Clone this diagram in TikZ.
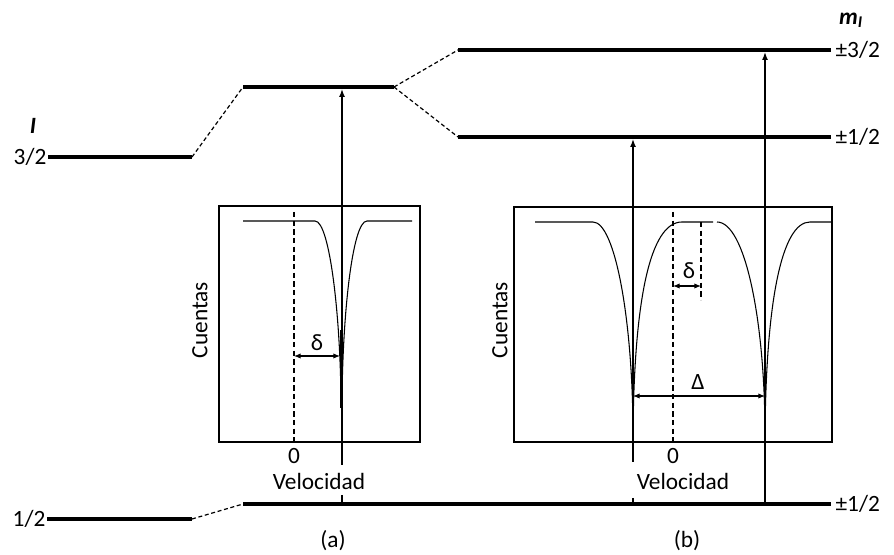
\documentclass[tikz,border=0pt]{standalone}
\usepackage{fontspec}
\setmainfont{Carlito}
\usetikzlibrary{arrows.meta}

\begin{document}
\begin{tikzpicture}[x=0.75pt,y=-0.75pt,
  level/.style={line width=2.4pt},
  link/.style={line width=0.9pt,dash pattern=on 3pt off 2pt},
  trans/.style={line width=1.1pt,-{Latex[length=6pt,width=4.5pt]}},
  tick/.style={line width=1.1pt},
  panel/.style={line width=1.6pt},
  zero/.style={line width=1.1pt,dash pattern=on 4pt off 2.5pt},
  line/.style={line width=0.8pt},
  split/.style={line width=0.8pt,{Latex[length=5pt,width=4pt]}-{Latex[length=5pt,width=4pt]}},
  lbl/.style={font=\fontsize{17.5}{20}\selectfont,inner sep=1pt}]
\useasboundingbox (0,0) rectangle (894,555);
% free ion levels
\node[lbl] (I) at (33,126) {\textbf{\textit{I}}};
\node[lbl,anchor=east] (i32) at (48,157) {3/2};
\node[lbl,anchor=east] (i12) at (47,519) {1/2};
\coordinate (e32) at (192,157);
\coordinate (e12) at (192,519);
\draw[level] (i32.east) -- (e32);
\draw[level] (i12.east) -- (e12);
% levels in the solid
\coordinate (a32s) at (243,87);  \coordinate (a32e) at (394,87);
\coordinate (b32s) at (458,50);  \coordinate (b32e) at (831,50);
\coordinate (b12s) at (458,137); \coordinate (b12e) at (831,137);
\coordinate (g12s) at (243,504); \coordinate (g12e) at (831,504);
\draw[level] (a32s) -- (a32e);
\draw[level] (b32s) -- (b32e);
\draw[level] (b12s) -- (b12e);
\draw[level] (g12s) -- (g12e);
\draw[link] (e32) -- (a32s);
\draw[link] (e12) -- (g12s);
\draw[link] (a32e) -- (b32s);
\draw[link] (a32e) -- (b12s);
\node[lbl] (mI) at (851,20) {\textbf{\textit{m\textsubscript{I}}}};
\node[lbl,anchor=west] (m32) at (834,50) {±3/2};
\node[lbl,anchor=west] (m12) at (834,137) {±1/2};
\node[lbl,anchor=west] (g12) at (834,504) {±1/2};
% spectrum (a): single line
\draw[panel] (219,206) rectangle (420,442);
\node[lbl,rotate=90] (ca) at (200,320) {Cuentas};
\node[lbl] (za) at (294,456) {0};
\node[lbl] (va) at (319,481) {Velocidad};
\node[lbl] (pa) at (333,541) {(a)};
\draw[zero] (294,212) -- (294,442);
\draw[line] (243,221) -- (315,221) .. controls (330,221) and (341,320) .. (341,408);
\draw[line] (412,221) -- (367,221) .. controls (352,221) and (342,320) .. (342,408);
\draw[line width=1.6pt] (341.5,330) -- (341.5,408);
\coordinate (ta0) at (342,465);
\coordinate (ta1) at (342,89);
\draw[trans] (ta0) -- (ta1);
\draw[tick] (342,495) -- (g12s -| ta0);
\draw[split] (294,356) -- (340,356);
\node[lbl] (da) at (317,343) {δ};
% spectrum (b): quadrupole doublet
\draw[panel] (514,207) rectangle (832,442);
\node[lbl,rotate=90] (cb) at (500,320) {Cuentas};
\node[lbl] (zb) at (673,456) {0};
\node[lbl] (vb) at (683,481) {Velocidad};
\node[lbl] (pb) at (687,541) {(b)};
\draw[zero] (673,212) -- (673,442);
\draw[zero] (701,222) -- (701,300);
\draw[line] (535,222) -- (593,222) .. controls (615,222) and (633,320) .. (633,435);
\draw[line] (633,435) .. controls (634,300) and (650,222) .. (682,222) -- (713,222);
\draw[line] (717,222) .. controls (745,222) and (765,320) .. (765,435);
\draw[line] (765,435) .. controls (766,300) and (782,222) .. (810,222) -- (832,222);
\coordinate (tb0) at (633,462);
\coordinate (tb1) at (633,139);
\coordinate (tc0) at (765,504);
\coordinate (tc1) at (765,52);
\draw[trans] (tb0) -- (tb1);
\draw[tick] (633,498) -- (g12s -| tb0);
\draw[trans] (tc0) -- (tc1);
\draw[split] (673,286) -- (701,286);
\node[lbl] (db) at (689,271) {δ};
\draw[split] (633,396) -- (765,396);
\node[lbl] (Db) at (698,382) {Δ};
\end{tikzpicture}
\end{document}
